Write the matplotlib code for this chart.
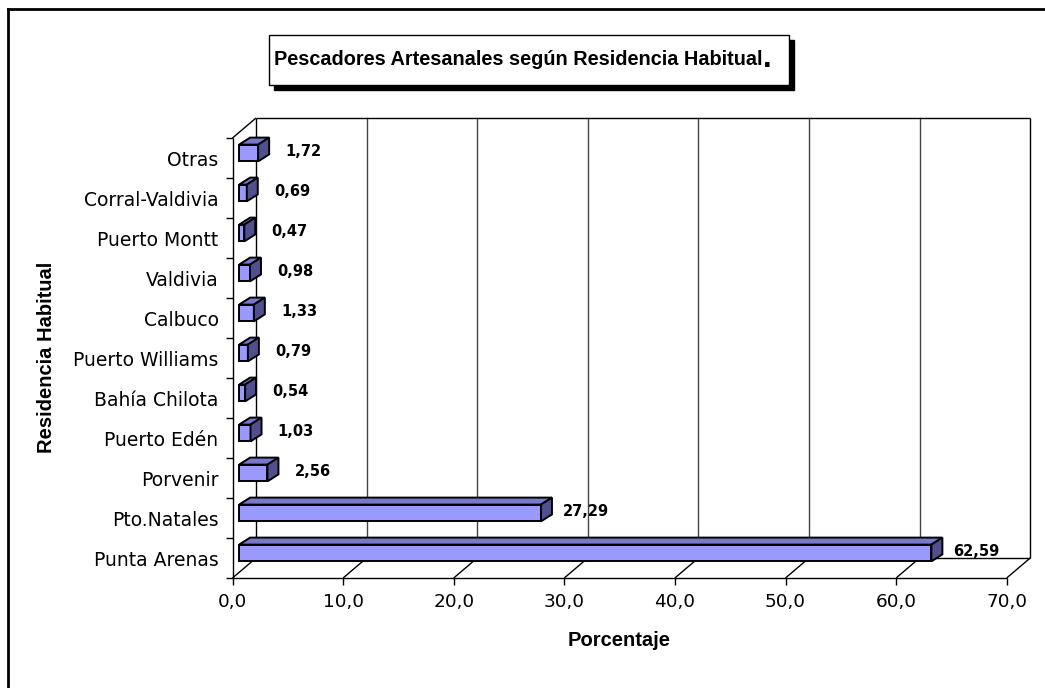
import matplotlib
matplotlib.use('Agg')
import matplotlib.pyplot as plt
from matplotlib.patches import Polygon, Rectangle
from matplotlib.lines import Line2D

# datos
categorias = ['Punta Arenas', 'Pto.Natales', 'Porvenir', 'Puerto Edén', 'Bahía Chilota',
              'Puerto Williams', 'Calbuco', 'Valdivia', 'Puerto Montt', 'Corral-Valdivia', 'Otras']
porcentajes = [62.59, 27.29, 2.56, 1.03, 0.54, 0.79, 1.33, 0.98, 0.47, 0.69, 1.72]
etiquetas = ['62,59', '27,29', '2,56', '1,03', '0,54', '0,79', '1,33', '0,98', '0,47', '0,69', '1,72']
ticks_x = [0, 10, 20, 30, 40, 50, 60, 70]
ticks_x_txt = ['0,0', '10,0', '20,0', '30,0', '40,0', '50,0', '60,0', '70,0']

W, H = 1045, 688
PX_X = 11.06   # pixeles por unidad en x
PX_Y = 40.0    # pixeles por categoria

COL_FRENTE = '#9999FF'
COL_ARRIBA = '#7878CC'
COL_LADO = '#505090'


def fx(px):
    return px / W


def fy(py):
    return 1 - py / H


fig = plt.figure(figsize=(W / 100, H / 100), dpi=100)
fig.patch.set_facecolor('white')

# marco exterior (solo borde izquierdo y superior visibles)
fig.add_artist(Line2D([fx(8), fx(8)], [fy(9), 0], color='black', lw=2))
fig.add_artist(Line2D([fx(8), 1], [fy(9), fy(9)], color='black', lw=2))

# ejes: frente en x=232.5 px, y=578 px
x0_px, x1_px = 232.5, 1040
y0_px, y1_px = 578, 118
ax = fig.add_axes([fx(x0_px), fy(y0_px), (x1_px - x0_px) / W, (y0_px - y1_px) / H])
ax.set_xlim(0, (x1_px - x0_px) / PX_X)
ax.set_ylim(0, (y0_px - y1_px) / PX_Y)
for s in ax.spines.values():
    s.set_visible(False)
ax.patch.set_alpha(0)

n = len(categorias)
xmax = ticks_x[-1]
DX = 23.5 / PX_X
DY = 20 / PX_Y
lk = dict(color='black', lw=1, solid_capstyle='butt', clip_on=False)
lg = dict(color='#444444', lw=1, clip_on=False)

# pared del fondo y piso
for k in ticks_x[1:-1]:
    ax.plot([k + DX, k + DX], [DY, n + DY], **lg)
for k in ticks_x[:-1]:
    ax.plot([k, k + DX], [0, DY], **lk)
ax.plot([DX, DX], [DY, n + DY], **lk)
ax.plot([xmax + DX, xmax + DX], [DY, n + DY], **lk)
ax.plot([DX, xmax + DX], [n + DY, n + DY], **lk)
ax.plot([DX, xmax + DX], [DY, DY], **lk)
ax.plot([0, 0], [0, n], **lk)
ax.plot([0, DX], [n, n + DY], **lk)
ax.plot([0, xmax], [0, 0], **lk)
ax.plot([xmax, xmax + DX], [0, DY], **lk)

# barras 3D
centros = [i + 0.5 for i in range(n)]
off = 0.6
h = 0.42
sube = 0.125
ddx = 11 / PX_X
ddy = 7 / PX_Y
yb = [c + sube for c in centros]
ax.barh(yb, porcentajes, left=off, height=h, color=COL_FRENTE, edgecolor='black',
        linewidth=1.4, zorder=5)
for v, c in zip(porcentajes, yb):
    xa, xb = off, off + v
    ya, yt = c - h / 2, c + h / 2
    ax.add_patch(Polygon([(xa, yt), (xb, yt), (xb + ddx, yt + ddy), (xa + ddx, yt + ddy)],
                         closed=True, facecolor=COL_ARRIBA, edgecolor='black', lw=1.4, zorder=5))
    ax.add_patch(Polygon([(xb, ya), (xb + ddx, ya + ddy), (xb + ddx, yt + ddy), (xb, yt)],
                         closed=True, facecolor=COL_LADO, edgecolor='black', lw=1.4, zorder=5))

# etiquetas de valores
for v, c, t in zip(porcentajes, centros, etiquetas):
    ax.text(v + 52 / PX_X, c + 0.16, t, ha='center', va='center', fontsize=10.5,
            fontweight='bold', family='DejaVu Sans', zorder=6)

# ticks
ax.set_xticks(ticks_x, ticks_x_txt)
ax.tick_params(axis='x', length=5, width=1, pad=6, labelsize=13.3, direction='out')
ax.set_yticks(centros, categorias)
ax.tick_params(axis='y', length=0, pad=10, labelsize=13.5)
ax.set_yticks(list(range(n + 1)), minor=True)
ax.tick_params(axis='y', which='minor', length=5, width=1, direction='out')

fig.text(fx(47), fy(357), 'Residencia Habitual', rotation=90, ha='center', va='center',
         fontsize=14.5, fontweight='bold', family='Liberation Sans')
fig.text(fx(619), fy(640), 'Porcentaje', ha='center', va='center',
         fontsize=14.5, fontweight='bold', family='Liberation Sans')

# titulo con recuadro y sombra
bx0, bx1, by0, by1 = 269, 789, 35, 85
fig.add_artist(Rectangle((fx(bx0 + 5), fy(by1 + 5)), (bx1 - bx0) / W, (by1 - by0) / H,
                         facecolor='black', edgecolor='black', transform=fig.transFigure))
fig.add_artist(Rectangle((fx(bx0), fy(by1)), (bx1 - bx0) / W, (by1 - by0) / H,
                         facecolor='white', edgecolor='black', lw=1, transform=fig.transFigure))
tt = fig.text(fx(274), fy(65), 'Pescadores Artesanales según Residencia Habitual',
              ha='left', va='baseline', fontsize=14.3, fontweight='bold',
              family='Liberation Sans', zorder=5)
fig.canvas.draw()
bb = tt.get_window_extent()
fig.text(bb.x1 / W, fy(67), '.', ha='left', va='baseline', fontsize=22, fontweight='bold',
         family='Liberation Sans', zorder=5)

fig.savefig('out.png', dpi=100)
